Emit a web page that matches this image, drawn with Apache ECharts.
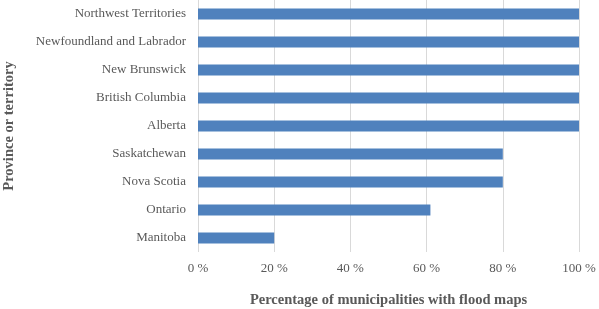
<!DOCTYPE html>
<html><head><meta charset="utf-8">
<script src="https://cdn.jsdelivr.net/npm/echarts@6/dist/echarts.min.js"></script>
<style>html,body{margin:0;padding:0;background:#fff}#c{width:599px;height:309px}</style>
</head><body><div id="c"></div>
<script>
const categories = ["Manitoba","Ontario","Nova Scotia","Saskatchewan","Alberta","British Columbia","New Brunswick","Newfoundland and Labrador","Northwest Territories"];
const values = [20, 61, 80, 80, 100, 100, 100, 100, 100];
const xTicks = [0, 20, 40, 60, 80, 100];
const font = "'Liberation Serif', 'Times New Roman', serif";
const chart = echarts.init(document.getElementById('c'));
chart.setOption({
  animation: false,
  grid: {left: 198, right: 20, top: 0, bottom: 57, containLabel: false, outerBoundsMode: 'none'},
  xAxis: {
    type: 'value', min: 0, max: 100, interval: 20,
    axisLine: {show: false}, axisTick: {show: false},
    splitLine: {lineStyle: {color: '#d9d9d9', width: 1}},
    axisLabel: {formatter: v => v + ' %', color: '#595959', fontFamily: font, fontSize: 13, margin: 10},
    name: 'Percentage of municipalities with flood maps', nameLocation: 'middle', nameGap: 41,
    nameTextStyle: {color: '#595959', fontFamily: font, fontSize: 14.5, fontWeight: 'bold'}
  },
  yAxis: {
    type: 'category', data: categories,
    axisLine: {show: false}, axisTick: {show: false},
    axisLabel: {color: '#595959', fontFamily: font, fontSize: 13, margin: 12},
    name: 'Province or territory', nameLocation: 'middle', nameGap: 181, nameRotate: 90,
    nameTextStyle: {color: '#595959', fontFamily: font, fontSize: 14.5, fontWeight: 'bold'}
  },
  series: [{type: 'bar', data: values, barWidth: 11, itemStyle: {color: '#4F81BD'}}]
});
</script></body></html>
